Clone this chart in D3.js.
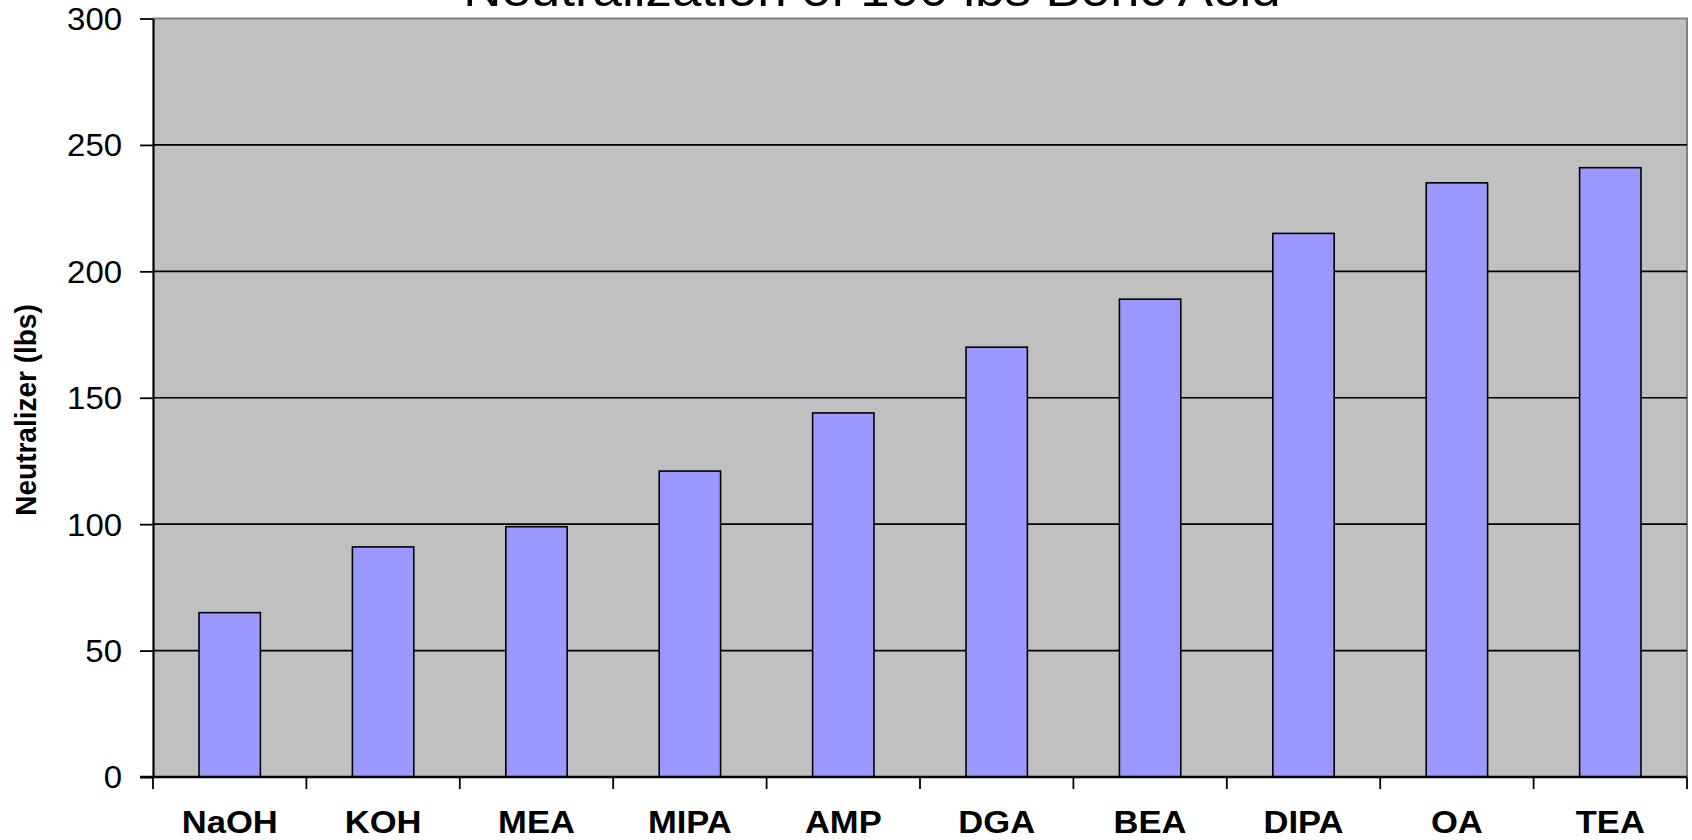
<!DOCTYPE html>
<html>
<head>
<meta charset="utf-8">
<script src="https://cdn.jsdelivr.net/npm/d3@7"></script>
<style>
  html, body { margin: 0; padding: 0; background: #fff; }
  svg { display: block; }
  text { font-family: "Liberation Sans", Arial, sans-serif; fill: #000; }
</style>
</head>
<body>
<svg id="chart" width="1692" height="840"></svg>
<script>
// Neutralizer mass needed per 100 lbs of boric acid
const categories = ["NaOH", "KOH", "MEA", "MIPA", "AMP", "DGA", "BEA", "DIPA", "OA", "TEA"];
const neutralizerLbs = [65, 91, 99, 121, 144, 170, 189, 215, 235, 241];
const yTicks = [0, 50, 100, 150, 200, 250, 300];
const titleText = "Neutralization of 100 lbs Boric Acid";
const yTitle = "Neutralizer (lbs)";

const svg = d3.select("#chart");
const plot = { left: 153, right: 1687, top: 18.5, bottom: 777 };
const stretch = 1.08; // glyphs are drawn slightly wide

const x = d3.scaleBand()
  .domain(categories)
  .range([plot.left, plot.right])
  .paddingInner(0.6)
  .paddingOuter(0.3);

const y = d3.scaleLinear()
  .domain([0, 300])
  .range([plot.bottom, plot.top]);

// plot background
svg.append("rect")
  .attr("x", plot.left).attr("y", plot.top)
  .attr("width", plot.right - plot.left)
  .attr("height", plot.bottom - plot.top)
  .attr("fill", "#c0c0c0");

// top and right frame in grey
svg.append("path")
  .attr("d", `M${plot.left},${plot.top}H${plot.right}V${plot.bottom}`)
  .attr("fill", "none").attr("stroke", "#808080").attr("stroke-width", 2);

// horizontal gridlines
svg.append("g").selectAll("line")
  .data(yTicks.filter(t => t > 0 && t < 300))
  .join("line")
  .attr("x1", plot.left).attr("x2", plot.right)
  .attr("y1", d => y(d)).attr("y2", d => y(d))
  .attr("stroke", "#000").attr("stroke-width", 1.6);

// bars
svg.append("g").selectAll("rect")
  .data(categories.map((c, i) => ({ c, v: neutralizerLbs[i] })))
  .join("rect")
  .attr("x", d => x(d.c))
  .attr("y", d => y(d.v))
  .attr("width", x.bandwidth())
  .attr("height", d => y(0) - y(d.v))
  .attr("fill", "#9999ff")
  .attr("stroke", "#000")
  .attr("stroke-width", 1.6);

// y axis
const yAxis = svg.append("g")
  .attr("transform", `translate(${plot.left},0)`)
  .call(d3.axisLeft(y).tickValues(yTicks).tickSize(13).tickSizeOuter(0));
yAxis.select(".domain").attr("stroke", "#000").attr("stroke-width", 2.2);
yAxis.selectAll(".tick line").attr("stroke", "#000").attr("stroke-width", 1.8);
yAxis.selectAll(".tick text")
  .attr("x", -31 / stretch)
  .attr("dy", "0.36em")
  .attr("transform", `scale(${stretch},1)`)
  .style("font-size", "30.5px")
  .style("font-family", "'Liberation Sans', Arial, sans-serif")
  .attr("fill", "#000");

// x axis line and category boundary ticks
const xAxisG = svg.append("g");
xAxisG.append("line")
  .attr("x1", plot.left - 13).attr("x2", plot.right)
  .attr("y1", plot.bottom).attr("y2", plot.bottom)
  .attr("stroke", "#000").attr("stroke-width", 2.4);
const step = x.step();
const x0 = x(categories[0]) - step * x.paddingOuter();
xAxisG.selectAll("line.tk")
  .data(d3.range(categories.length + 1))
  .join("line")
  .attr("class", "tk")
  .attr("x1", i => x0 + i * step).attr("x2", i => x0 + i * step)
  .attr("y1", plot.bottom).attr("y2", plot.bottom + 12)
  .attr("stroke", "#000").attr("stroke-width", 1.8);

// category labels
xAxisG.selectAll("text")
  .data(categories)
  .join("text")
  .attr("transform", d => `translate(${x(d) + x.bandwidth() / 2},833) scale(${stretch},1)`)
  .attr("text-anchor", "middle")
  .style("font-size", "32px")
  .style("font-weight", "bold")
  .text(d => d);

// y axis title
svg.append("text")
  .attr("transform", `translate(36,410) scale(${stretch},1) rotate(-90)`)
  .attr("text-anchor", "middle")
  .style("font-size", "28px")
  .style("font-weight", "bold")
  .text(yTitle);

// chart title
svg.append("text")
  .attr("transform", `translate(872,6) scale(${stretch},1)`)
  .attr("text-anchor", "middle")
  .style("font-size", "49px")
  .text(titleText);
</script>
</body>
</html>
